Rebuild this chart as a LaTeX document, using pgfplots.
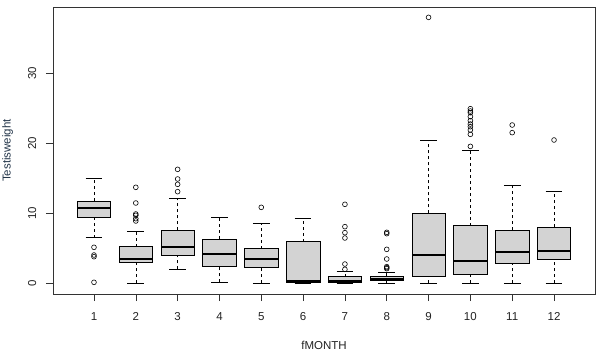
\documentclass[border=0pt]{standalone}
\usepackage{pgfplots}
\pgfplotsset{compat=1.18}
\usepgfplotslibrary{statistics}
\usepackage{fontspec}
\setmainfont{Liberation Sans}
\definecolor{boxgray}{HTML}{D3D3D3}
\definecolor{labblue}{HTML}{24364A}
\definecolor{txt}{HTML}{222222}
\begin{document}
\begin{tikzpicture}
\begin{axis}[
  at={(53bp,63bp)}, anchor=south west,
  scale only axis, width=542bp, height=287bp,
  xmin=0.02, xmax=12.98, ymin=-1.57, ymax=39.43,
  xtick={1,...,12}, ytick={0,10,20,30},
  xtick pos=bottom, ytick pos=left,
  tick align=outside, major tick length=7bp,
  axis line style={line width=0.6pt, draw=black!80},
  every tick/.style={black!80, line width=0.6pt},
  /pgf/number format/assume math mode=true,
  tick label style={font=\fontsize{11.5bp}{13bp}\selectfont, text=txt},
  xticklabel style={anchor=base, yshift=-19bp},
  yticklabel style={xshift=-10bp, rotate=90, anchor=base},
  xlabel={fMONTH}, ylabel={Testisweight},
  every axis x label/.style={at={(axis description cs:0.5,-0.1927)}, anchor=base, font=\fontsize{11.5bp}{13bp}\selectfont, text=txt},
  every axis y label/.style={at={(axis description cs:-0.0784,0.5)}, anchor=base, rotate=90, font=\fontsize{11.5bp}{13bp}\selectfont, text=labblue},
  every axis plot/.append style={line width=0.6pt},
  boxplot/draw direction=y,
  boxplot/box extend=0.8,
  boxplot/whisker extend=0.4,
  boxplot/every box/.style={fill=boxgray, draw=black},
  boxplot/every median/.style={line width=2.2pt},
  boxplot/draw/lower whisker/.code={%
    \draw[dash pattern=on 3bp off 3bp] (boxplot box cs:\pgfplotsboxplotvalue{lower whisker},0.5) -- (boxplot box cs:\pgfplotsboxplotvalue{lower quartile},0.5);
    \draw[solid] (boxplot whisker cs:\pgfplotsboxplotvalue{lower whisker},0) -- (boxplot whisker cs:\pgfplotsboxplotvalue{lower whisker},1);
  },
  boxplot/draw/upper whisker/.code={%
    \draw[dash pattern=on 3bp off 3bp] (boxplot box cs:\pgfplotsboxplotvalue{upper quartile},0.5) -- (boxplot box cs:\pgfplotsboxplotvalue{upper whisker},0.5);
    \draw[solid] (boxplot whisker cs:\pgfplotsboxplotvalue{upper whisker},0) -- (boxplot whisker cs:\pgfplotsboxplotvalue{upper whisker},1);
  },
]
\pgfplotsset{every axis plot/.append style={black, mark=o, mark size=2.4bp, mark options={solid, line width=0.6pt}}}
% Month 1
\addplot[boxplot prepared={draw position=1, lower whisker=6.48, lower quartile=9.38, median=10.71, upper quartile=11.71, upper whisker=14.95}]
  table[row sep=\\, y index=0] {y\\ 5.1\\ 4.0\\ 3.76\\ 0.1\\};
% Month 2
\addplot[boxplot prepared={draw position=2, lower whisker=0, lower quartile=2.9, median=3.43, upper quartile=5.19, upper whisker=7.38}]
  table[row sep=\\, y index=0] {y\\ 13.67\\ 11.43\\ 9.86\\ 9.67\\ 9.19\\ 8.86\\};
% Month 3
\addplot[boxplot prepared={draw position=3, lower whisker=1.95, lower quartile=3.95, median=5.14, upper quartile=7.52, upper whisker=12.1}]
  table[row sep=\\, y index=0] {y\\ 16.24\\ 14.86\\ 14.1\\ 13.05\\};
% Month 4
\addplot[boxplot prepared={draw position=4, lower whisker=0.1, lower quartile=2.43, median=4.1, upper quartile=6.29, upper whisker=9.43}]
  coordinates {};
% Month 5
\addplot[boxplot prepared={draw position=5, lower whisker=0, lower quartile=2.24, median=3.43, upper quartile=4.9, upper whisker=8.57}]
  table[row sep=\\, y index=0] {y\\ 10.81\\};
% Month 6
\addplot[boxplot prepared={draw position=6, lower whisker=0.02, lower quartile=0.1, median=0.24, upper quartile=5.9, upper whisker=9.29}]
  coordinates {};
% Month 7
\addplot[boxplot prepared={draw position=7, lower whisker=0.02, lower quartile=0.1, median=0.24, upper quartile=0.9, upper whisker=1.71}]
  table[row sep=\\, y index=0] {y\\ 11.24\\ 8.05\\ 7.19\\ 6.43\\ 2.71\\ 1.95\\};
% Month 8
\addplot[boxplot prepared={draw position=8, lower whisker=0, lower quartile=0.33, median=0.52, upper quartile=0.95, upper whisker=1.48}]
  table[row sep=\\, y index=0] {y\\ 7.24\\ 7.05\\ 4.81\\ 3.43\\ 2.33\\ 2.19\\ 2.05\\};
% Month 9
\addplot[boxplot prepared={draw position=9, lower whisker=0, lower quartile=0.95, median=3.95, upper quartile=9.95, upper whisker=20.43}]
  table[row sep=\\, y index=0] {y\\ 37.95\\};
% Month 10
\addplot[boxplot prepared={draw position=10, lower whisker=0, lower quartile=1.19, median=3.1, upper quartile=8.19, upper whisker=18.9}]
  table[row sep=\\, y index=0] {y\\ 24.9\\ 24.57\\ 24.33\\ 23.76\\ 23.19\\ 22.71\\ 22.33\\ 21.86\\ 21.24\\ 19.52\\};
% Month 11
\addplot[boxplot prepared={draw position=11, lower whisker=0, lower quartile=2.86, median=4.48, upper quartile=7.57, upper whisker=13.9}]
  table[row sep=\\, y index=0] {y\\ 22.57\\ 21.48\\};
% Month 12
\addplot[boxplot prepared={draw position=12, lower whisker=0, lower quartile=3.38, median=4.52, upper quartile=8.0, upper whisker=13.05}]
  table[row sep=\\, y index=0] {y\\ 20.43\\};
\end{axis}
\pgfresetboundingbox
\path[use as bounding box] (0,0) rectangle (601bp,357bp);
\end{tikzpicture}
\end{document}
